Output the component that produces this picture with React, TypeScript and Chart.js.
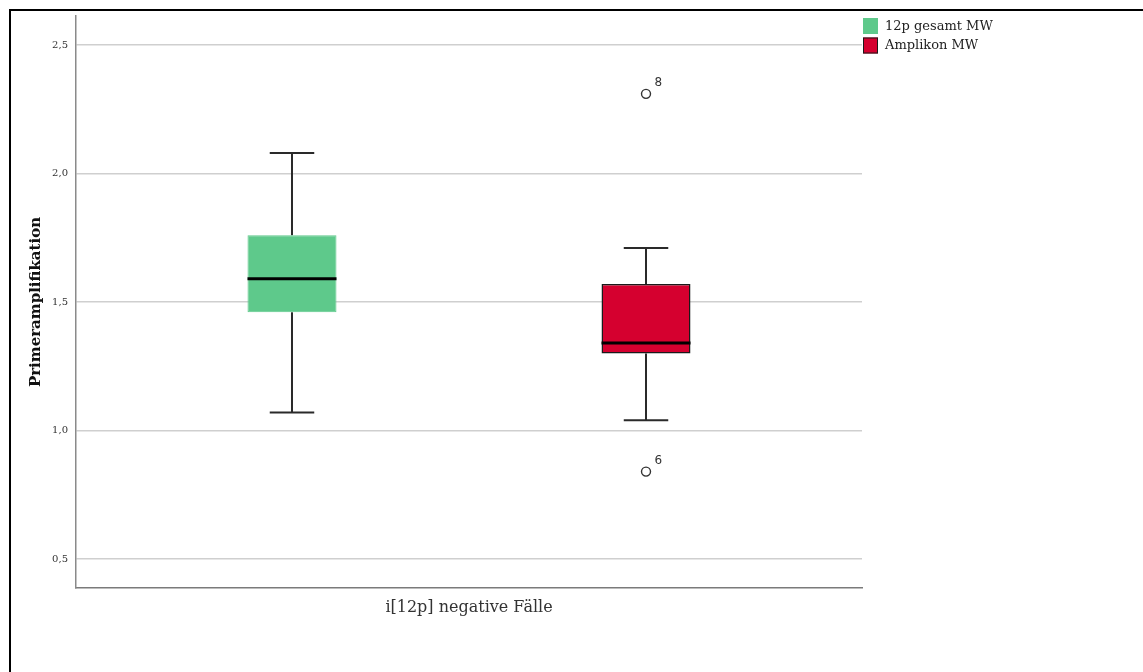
import { useEffect, useRef } from 'react';
import { Chart, registerables } from 'chart.js';

Chart.register(...registerables);

// Box plot of primer amplification for i[12p]-negative cases
const category = ['i[12p] negative Fälle'];
const seriesNames = ['12p gesamt MW', 'Amplikon MW'];
const seriesFill = ['#5ec98b', '#d5002f'];
const seriesEdge = ['#5ec98b', '#1a1a1a'];
const lowerWhisker = [1.07, 1.04];
const lowerQuartile = [1.46, 1.3];
const medianValue = [1.59, 1.34];
const upperQuartile = [1.76, 1.57];
const upperWhisker = [2.08, 1.71];
const outlierValues: number[][] = [[], [2.31, 0.84]];
const outlierLabels: string[][] = [[], ['8', '6']];
const yTicks = [0.5, 1.0, 1.5, 2.0, 2.5];
const yTickLabels = ['0,5', '1,0', '1,5', '2,0', '2,5'];
const yMin = 0.387;
const yMax = 2.613;

const SERIF = '"DejaVu Serif", serif';
const SANS = '"DejaVu Sans", sans-serif';

// Whiskers, medians, outliers and the legend drawn around the floating bars
const boxParts = {
  id: 'boxParts',
  beforeDatasetsDraw(chart: any) {
    const ctx = chart.ctx;
    const y = chart.scales.y;
    chart.data.datasets.forEach((_: any, i: number) => {
      const bar: any = chart.getDatasetMeta(i).data[0];
      if (!bar) return;
      const x = bar.x;
      const half = bar.width / 4;
      const hi = y.getPixelForValue(upperWhisker[i]);
      const lo = y.getPixelForValue(lowerWhisker[i]);
      const q1 = y.getPixelForValue(lowerQuartile[i]);
      const q3 = y.getPixelForValue(upperQuartile[i]);
      ctx.save();
      ctx.strokeStyle = '#2a2a2a';
      ctx.lineWidth = 2;
      ctx.beginPath();
      ctx.moveTo(x, hi);
      ctx.lineTo(x, q3);
      ctx.moveTo(x, q1);
      ctx.lineTo(x, lo);
      ctx.moveTo(x - half, hi);
      ctx.lineTo(x + half, hi);
      ctx.moveTo(x - half, lo);
      ctx.lineTo(x + half, lo);
      ctx.stroke();
      ctx.restore();
    });
  },
  afterDatasetsDraw(chart: any) {
    const ctx = chart.ctx;
    const y = chart.scales.y;
    chart.data.datasets.forEach((_: any, i: number) => {
      const bar: any = chart.getDatasetMeta(i).data[0];
      if (!bar) return;
      const x = bar.x;
      const w = bar.width;
      const m = y.getPixelForValue(medianValue[i]);
      ctx.save();
      ctx.strokeStyle = '#000';
      ctx.lineWidth = 3;
      ctx.beginPath();
      ctx.moveTo(x - w / 2, m);
      ctx.lineTo(x + w / 2, m);
      ctx.stroke();
      outlierValues[i].forEach((v, k) => {
        const py = y.getPixelForValue(v);
        ctx.beginPath();
        ctx.lineWidth = 1.4;
        ctx.strokeStyle = '#333';
        ctx.arc(x, py, 4.5, 0, Math.PI * 2);
        ctx.stroke();
        ctx.fillStyle = '#333';
        ctx.font = `12px ${SANS}`;
        ctx.textAlign = 'left';
        ctx.textBaseline = 'middle';
        ctx.fillText(outlierLabels[i][k], x + 8.5, py - 11);
      });
      ctx.restore();
    });
  },
  afterDraw(chart: any) {
    const ctx = chart.ctx;
    const left = chart.chartArea.right + 1;
    ctx.save();
    seriesNames.forEach((name, i) => {
      const top = 7 + i * 19.5;
      ctx.fillStyle = seriesFill[i];
      ctx.fillRect(left, top, 15, 16);
      if (i === 1) {
        ctx.strokeStyle = '#1a1a1a';
        ctx.lineWidth = 1;
        ctx.strokeRect(left + 0.5, top + 0.5, 14, 15);
      }
      ctx.fillStyle = '#222';
      ctx.font = `13px ${SERIF}`;
      ctx.textAlign = 'left';
      ctx.textBaseline = 'middle';
      ctx.fillText(name, left + 22, top + 8.5);
    });
    ctx.restore();
  },
};

export default function App() {
  const canvasRef = useRef<HTMLCanvasElement>(null);

  useEffect(() => {
    if (!canvasRef.current) return;
    const chart = new Chart(canvasRef.current, {
      type: 'bar',
      data: {
        labels: category,
        datasets: seriesNames.map((name, i) => ({
          label: name,
          data: [[lowerQuartile[i], upperQuartile[i]]] as any,
          backgroundColor: seriesFill[i],
          borderColor: seriesEdge[i],
          borderWidth: i === 1 ? 1.5 : 1,
          borderSkipped: false,
          categoryPercentage: 0.9008,
          barPercentage: 0.2514,
        })),
      },
      options: {
        animation: false,
        responsive: true,
        maintainAspectRatio: false,
        layout: { padding: { left: 0, top: 5, right: 281, bottom: 0 } },
        plugins: {
          legend: { display: false },
          tooltip: { enabled: false },
        },
        scales: {
          x: {
            grid: { display: false, drawTicks: false },
            border: { display: true, color: '#7a7a7a', width: 1.5 },
            ticks: {
              font: { family: SERIF, size: 16 },
              color: '#333',
              padding: 10,
            },
            afterFit: (axis: any) => {
              axis.height = 84;
            },
          },
          y: {
            min: yMin,
            max: yMax,
            afterBuildTicks: (axis: any) => {
              axis.ticks = yTicks.map((v) => ({ value: v }));
            },
            ticks: {
              callback: (value: any) => yTickLabels[yTicks.indexOf(Number(value))] ?? '',
              font: { family: SERIF, size: 10 },
              color: '#333',
              padding: 8,
            },
            grid: { color: '#cfcfcf', lineWidth: 1.5, drawTicks: false },
            border: { color: '#8a8a8a', width: 1.5 },
            title: {
              display: true,
              text: 'Primeramplifikation',
              font: { family: SERIF, size: 15, weight: 'bold' },
              color: '#111',
              padding: { top: 16, bottom: 0 },
            },
            afterFit: (axis: any) => {
              axis.width = 65;
              axis.paddingTop = 0;
              axis.paddingBottom = 0;
            },
          },
        },
      },
      plugins: [boxParts],
    });
    return () => chart.destroy();
  }, []);

  return (
    <div
      style={{
        position: 'fixed',
        left: 9,
        top: 9,
        right: 0,
        bottom: 0,
        borderTop: '2px solid #000',
        borderLeft: '2px solid #000',
        background: '#fff',
      }}
    >
      <div style={{ position: 'absolute', left: 0, top: 0, width: 1132, height: 661 }}>
        <canvas ref={canvasRef} />
      </div>
    </div>
  );
}
